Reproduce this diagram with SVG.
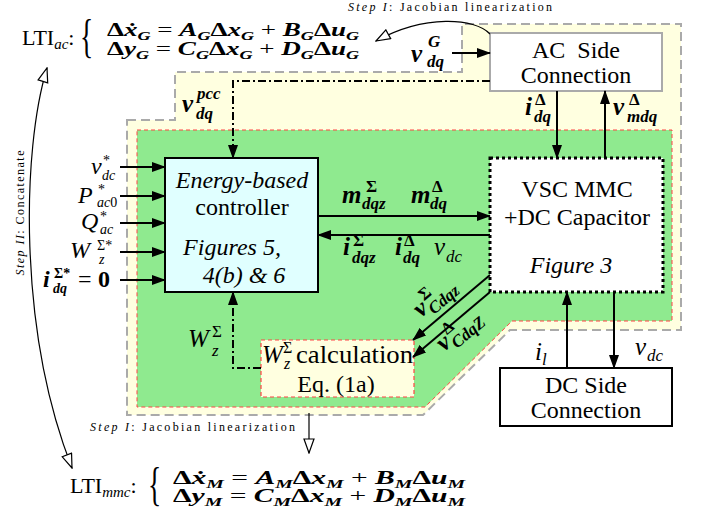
<svg xmlns="http://www.w3.org/2000/svg" width="702" height="514" viewBox="0 0 702 514" font-family="'Liberation Serif','DejaVu Serif',serif">
<defs>
<style>
text{font-family:'Liberation Serif','DejaVu Serif',serif;fill:#000}
.it{font-style:italic}
.b{font-weight:bold}
.bi{font-style:italic;font-weight:bold}
.nt{font-size:24px;text-anchor:middle}
.ln{stroke:#000;stroke-width:2;fill:none}
.dd{stroke-dasharray:8,3,2,3}
.ar{marker-end:url(#ah)}
.oa{stroke:#000;stroke-width:1.2;fill:none}
.m{font-size:25px}
.s{font-size:17px}
.si{font-size:14px}
.sm{font-size:12px}
</style>
<marker id="ah" viewBox="0 0 14 10" refX="13" refY="5" markerWidth="14" markerHeight="10" orient="auto" markerUnits="userSpaceOnUse"><path d="M0,0 L14,5 L0,10 z" fill="#000"/></marker>
<marker id="oh" viewBox="0 0 16 12" refX="15" refY="6" markerWidth="16" markerHeight="12" orient="auto-start-reverse" markerUnits="userSpaceOnUse"><path d="M1,1 L15,6 L1,11 z" fill="#fff" stroke="#000" stroke-width="1.2"/></marker>
</defs>
<rect width="702" height="514" fill="#fff"/>
<g id="regions">
<polygon points="127,120 175,120 175,72 462,72 462,24 681,24 681,330 510,330 423,415 127,415" fill="#ffffe0" stroke="#aaa" stroke-width="2" stroke-dasharray="9,5"/>
<polygon points="137,130 672,130 672,321 512,321 425,407 137,407" fill="#8fea8f" stroke="#f44" stroke-width="1" stroke-dasharray="4,3"/>
</g>
<g id="node-ac">
<rect x="490" y="33" width="172" height="58" fill="#fff" stroke="#aaa" stroke-width="2"/>
<text class="nt" x="576" y="58" font-size="23" word-spacing="6">AC Side</text>
<text class="nt" x="576" y="83" font-size="23">Connection</text>
</g>
<g id="node-controller">
<rect x="165" y="158" width="153" height="134" fill="#e0ffff" stroke="#000" stroke-width="2"/>
<text class="nt it" x="242" y="188">Energy-based</text>
<text class="nt" x="242" y="215">controller</text>
<text class="nt it" x="232" y="255">Figures 5,</text>
<text class="nt it" x="244" y="283">4(b) &amp; 6</text>
</g>
<g id="node-vsc">
<rect x="490" y="158" width="173" height="134" fill="#fff" stroke="#000" stroke-width="3" stroke-dasharray="3,3"/>
<text class="nt" x="577" y="197" font-size="25">VSC MMC</text>
<text class="nt" x="577" y="225" font-size="25">+DC Capacitor</text>
<text class="nt it" x="571" y="273" font-size="25">Figure 3</text>
</g>
<g id="node-dc">
<rect x="500" y="368" width="172" height="58" fill="#fff" stroke="#000" stroke-width="2"/>
<text class="nt" x="586" y="393" font-size="23">DC Side</text>
<text class="nt" x="586" y="418" font-size="23">Connection</text>
</g>
<g id="node-wcalc">
<rect x="261" y="340" width="153" height="57" fill="#ffffe0" stroke="#f44" stroke-width="1.2" stroke-dasharray="4,3"/>
<text class="it" x="262" y="363" font-size="25">W</text>
<text x="283" y="353" font-size="16">Σ</text>
<text class="it" x="284" y="369" font-size="16">z</text>
<text x="296" y="363" font-size="25" textLength="117" lengthAdjust="spacingAndGlyphs">calculation</text>
<text class="nt" x="336" y="392" font-size="25">Eq. (1a)</text>
</g>
<g id="connectors">
<line class="ln ar" x1="452" y1="53" x2="490" y2="53"/>
<path class="oa" d="M490,34 C475,18 425,14 376,41" marker-end="url(#oh)"/>
<path class="ln dd ar" d="M490,81 H233 V158"/>
<line class="ln ar" x1="557" y1="91" x2="557" y2="158"/>
<line class="ln ar" x1="605" y1="158" x2="605" y2="91"/>
<line class="ln ar" x1="318" y1="216" x2="490" y2="216"/>
<line class="ln ar" x1="490" y1="235" x2="318" y2="235"/>
<line class="ln ar" x1="490" y1="275" x2="413" y2="340"/>
<line class="ln ar" x1="490" y1="292" x2="413" y2="357"/>
<path class="ln dd ar" d="M261,368 H233 V292"/>
<line class="ln ar" x1="120" y1="167" x2="165" y2="167"/>
<line class="ln ar" x1="120" y1="196" x2="165" y2="196"/>
<line class="ln ar" x1="120" y1="223" x2="165" y2="223"/>
<line class="ln ar" x1="120" y1="252" x2="165" y2="252"/>
<line class="ln ar" x1="120" y1="280" x2="165" y2="280"/>
<line class="ln ar" x1="567" y1="368" x2="567" y2="292"/>
<line class="ln ar" x1="614" y1="292" x2="614" y2="368"/>
<line class="oa" x1="309" y1="413" x2="309" y2="453" marker-end="url(#oh)"/>
<path class="oa" d="M47,68 C22,150 18,330 72,468" marker-start="url(#oh)" marker-end="url(#oh)"/>
</g>
<g id="labels">
<text class="bi m" x="411" y="62">v</text><text class="bi s" x="428" y="47">G</text><text class="bi s" x="427" y="67">dq</text>
<text class="bi m" x="182" y="112">v</text><text class="bi s" x="197" y="99">pcc</text><text class="bi s" x="196" y="119">dq</text>
<text class="bi m" x="525" y="115">i</text><text class="b s" x="535" y="105">Δ</text><text class="bi s" x="534" y="122">dq</text>
<text class="bi m" x="613" y="115">v</text><text class="b s" x="629" y="105">Δ</text><text class="bi s" x="627" y="122">mdq</text>
<text class="bi m" x="342" y="203">m</text><text class="b s" x="366" y="192">Σ</text><text class="bi s" x="362" y="209">dqz</text>
<text class="bi m" x="411" y="203">m</text><text class="b s" x="432" y="192">Δ</text><text class="bi s" x="430" y="209">dq</text>
<text class="bi m" x="343" y="255">i</text><text class="b s" x="353" y="246">Σ</text><text class="bi s" x="352" y="263">dqz</text>
<text class="bi m" x="395" y="255">i</text><text class="b s" x="404" y="246">Δ</text><text class="bi s" x="403" y="263">dq</text>
<text class="it m" x="434" y="255">v</text><text class="it s" x="446" y="262">dc</text>
<text class="it m" x="188" y="347">W</text><text class="s" x="212" y="337">Σ</text><text class="it s" x="212" y="356">z</text>
<text class="it m" x="535" y="360">i</text><text class="it s" x="542" y="365">l</text>
<text class="it m" x="635" y="355">v</text><text class="it s" x="647" y="361">dc</text>
<g transform="translate(421,318) rotate(-40)"><text class="bi m" x="0" y="0">v</text><text class="b s" x="13" y="-11">Σ</text><text class="bi s" x="12" y="6">Cdqz</text></g>
<g transform="translate(444,352) rotate(-40)"><text class="bi m" x="0" y="0">v</text><text class="b s" x="13" y="-11">Δ</text><text class="bi s" x="12" y="6">CdqZ</text></g>
<text class="it" x="91" y="174" font-size="24">v</text><text class="si" x="103" y="165">*</text><text class="it si" x="102" y="180">dc</text>
<text class="it" x="78" y="203" font-size="24">P</text><text class="si" x="98" y="194">*</text><text class="it si" x="97" y="207">ac<tspan font-style="normal">0</tspan></text>
<text class="it" x="81" y="229" font-size="24">Q</text><text class="si" x="100" y="221">*</text><text class="it si" x="100" y="234">ac</text>
<text class="it" x="70" y="258" font-size="24">W</text><text class="si" x="97" y="250">Σ*</text><text class="it si" x="99" y="264">z</text>
<text class="bi" x="43" y="287" font-size="24">i</text><text class="b si" x="54" y="278">Σ*</text><text class="bi si" x="53" y="293">dq</text><text font-size="24" x="78" y="287">=</text><text class="b" font-size="24" x="98" y="287">0</text>
<text x="348" y="11" font-size="12" textLength="204" lengthAdjust="spacing"><tspan font-style="italic">Step I</tspan>: Jacobian linearization</text>
<text x="90" y="431" font-size="12" textLength="205" lengthAdjust="spacing"><tspan font-style="italic">Step I</tspan>: Jacobian linearization</text>
<text transform="translate(24,213) rotate(-90)" text-anchor="middle" font-size="12" textLength="125" lengthAdjust="spacing"><tspan font-style="italic">Step II</tspan>: Concatenate</text>
</g>
<g id="lti-ac">
<text x="22" y="45" font-size="22">LTI<tspan class="it" font-size="15" dy="4">ac</tspan><tspan dy="-4">:</tspan></text>
<text transform="translate(80,52) scale(0.6,1)" font-size="46">{</text>
<text class="b" x="107" y="36" font-size="18" textLength="252" lengthAdjust="spacingAndGlyphs">Δ<tspan class="bi">ẋ</tspan><tspan class="bi sm" dy="4">G</tspan><tspan dy="-4" font-weight="normal"> = </tspan><tspan class="bi">A</tspan><tspan class="bi sm" dy="4">G</tspan><tspan dy="-4">Δ</tspan><tspan class="bi">x</tspan><tspan class="bi sm" dy="4">G</tspan><tspan dy="-4" font-weight="normal"> + </tspan><tspan class="bi">B</tspan><tspan class="bi sm" dy="4">G</tspan><tspan dy="-4">Δ</tspan><tspan class="bi">u</tspan><tspan class="bi sm" dy="4">G</tspan></text>
<text class="b" x="107" y="55" font-size="18" textLength="252" lengthAdjust="spacingAndGlyphs">Δ<tspan class="bi">y</tspan><tspan class="bi sm" dy="4">G</tspan><tspan dy="-4" font-weight="normal"> = </tspan><tspan class="bi">C</tspan><tspan class="bi sm" dy="4">G</tspan><tspan dy="-4">Δ</tspan><tspan class="bi">x</tspan><tspan class="bi sm" dy="4">G</tspan><tspan dy="-4" font-weight="normal"> + </tspan><tspan class="bi">D</tspan><tspan class="bi sm" dy="4">G</tspan><tspan dy="-4">Δ</tspan><tspan class="bi">u</tspan><tspan class="bi sm" dy="4">G</tspan></text>
</g>
<g id="lti-mmc">
<text x="70" y="493" font-size="22">LTI<tspan class="it" font-size="15" dy="4">mmc</tspan><tspan dy="-4">:</tspan></text>
<text transform="translate(148,500) scale(0.6,1)" font-size="46">{</text>
<text class="b" x="173" y="484" font-size="18" textLength="292" lengthAdjust="spacingAndGlyphs">Δ<tspan class="bi">ẋ</tspan><tspan class="bi sm" dy="4">M</tspan><tspan dy="-4" font-weight="normal"> = </tspan><tspan class="bi">A</tspan><tspan class="bi sm" dy="4">M</tspan><tspan dy="-4">Δ</tspan><tspan class="bi">x</tspan><tspan class="bi sm" dy="4">M</tspan><tspan dy="-4" font-weight="normal"> + </tspan><tspan class="bi">B</tspan><tspan class="bi sm" dy="4">M</tspan><tspan dy="-4">Δ</tspan><tspan class="bi">u</tspan><tspan class="bi sm" dy="4">M</tspan></text>
<text class="b" x="173" y="502" font-size="18" textLength="292" lengthAdjust="spacingAndGlyphs">Δ<tspan class="bi">y</tspan><tspan class="bi sm" dy="4">M</tspan><tspan dy="-4" font-weight="normal"> = </tspan><tspan class="bi">C</tspan><tspan class="bi sm" dy="4">M</tspan><tspan dy="-4">Δ</tspan><tspan class="bi">x</tspan><tspan class="bi sm" dy="4">M</tspan><tspan dy="-4" font-weight="normal"> + </tspan><tspan class="bi">D</tspan><tspan class="bi sm" dy="4">M</tspan><tspan dy="-4">Δ</tspan><tspan class="bi">u</tspan><tspan class="bi sm" dy="4">M</tspan></text>
</g>
</svg>
